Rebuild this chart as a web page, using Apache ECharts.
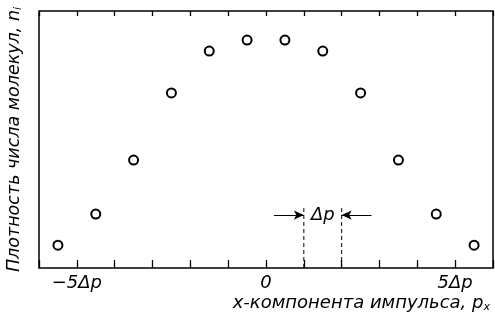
<!DOCTYPE html>
<html lang="ru">
<head>
  <meta charset="UTF-8">
  <title>Распределение по импульсам</title>
  <script src="https://cdn.jsdelivr.net/npm/echarts@6/dist/echarts.min.js"></script>
</head>
<body style="margin:0">
  <div id="chart" style="width: 495px;height: 324px;"></div>
  <script>
    // точки: середины интервалов Δp и относительная плотность n_i
    const momentum = [-5.5, -4.5, -3.5, -2.5, -1.5, -0.5, 0.5, 1.5, 2.5, 3.5, 4.5, 5.5]
    const density = [0.089, 0.210, 0.420, 0.681, 0.844, 0.887, 0.887, 0.844, 0.681, 0.420, 0.210, 0.089]
    // подписи делений оси x
    const tickLabels = { '-5': '−5Δp', '0': '0', '5': '5Δp' }
    // пометка ширины интервала Δp
    const deltaEdges = [1, 2]
    const deltaTop = 0.233
    const arrowY = 0.206
    const arrowFrom = [0.21, 2.79]

    const font = '"DejaVu Sans", sans-serif'
    const chart = echarts.init(document.getElementById('chart'))

    const option = {
      animation: false,
      grid: {
        left: 39, right: 2, top: 11, bottom: 56,
        outerBoundsMode: 'none', containLabel: false,
        show: true, borderColor: '#000', borderWidth: 1.5
      },
      xAxis: [
        {
          type: 'value', min: -6, max: 6, interval: 1,
          axisLine: { show: false },
          splitLine: { show: false },
          axisTick: { inside: true, length: 8, lineStyle: { color: '#000', width: 1.3 } },
          axisLabel: {
            margin: 6, color: '#000', fontSize: 18, fontStyle: 'italic', fontFamily: font,
            formatter: v => tickLabels[String(v)] || ''
          }
        },
        {
          type: 'value', position: 'top', min: -6, max: 6, interval: 1,
          axisLine: { show: false },
          splitLine: { show: false },
          axisTick: { inside: true, length: 5, lineStyle: { color: '#000', width: 1.3 } },
          axisLabel: { show: false }
        }
      ],
      yAxis: {
        type: 'value', min: 0, max: 1,
        axisLine: { show: false },
        axisTick: { show: false },
        axisLabel: { show: false },
        splitLine: { show: false },
        name: 'Плотность числа молекул, {s|n}{sub|i}',
        nameLocation: 'middle', nameGap: 15, nameRotate: 90,
        nameTextStyle: {
          color: '#000', fontSize: 17.5, fontStyle: 'italic', fontFamily: font,
          rich: {
            s: { fontSize: 17.5, fontStyle: 'italic', fontFamily: font, color: '#000' },
            sub: { fontSize: 11, fontStyle: 'italic', fontFamily: font, color: '#000', verticalAlign: 'bottom', padding: [8, 0, 0, 0] }
          }
        }
      },
      graphic: [{
        type: 'text', right: 5, top: 294,
        style: {
          text: 'x-компонента импульса, {s|p}{sub|x}',
          fill: '#000', font: 'italic 18px ' + font,
          rich: {
            s: { fontSize: 18, fontStyle: 'italic', fontFamily: font, fill: '#000' },
            sub: { fontSize: 11, fontStyle: 'italic', fontFamily: font, fill: '#000', verticalAlign: 'bottom', padding: [8, 0, 0, 0] }
          }
        }
      }],
      series: [
        {
          type: 'scatter',
          data: momentum.map((x, i) => [x, density[i]]),
          symbol: 'emptyCircle', symbolSize: 9,
          itemStyle: { color: '#000', borderColor: '#000', borderWidth: 1, opacity: 1 },
          markLine: {
            silent: true,
            symbol: ['none', 'arrow'], symbolSize: [7, 10],
            lineStyle: { color: '#000', width: 1, type: 'solid', opacity: 1 },
            label: { show: false },
            data: deltaEdges.map((x, i) => [
              { coord: [arrowFrom[i], arrowY] },
              { coord: [x, arrowY] }
            ])
          }
        },
        ...deltaEdges.map(x => ({
          type: 'line', symbol: 'none', silent: true,
          data: [[x, 0], [x, deltaTop]],
          lineStyle: { color: '#000', width: 1, type: [4, 3] }
        })),
        {
          type: 'scatter', symbol: 'circle', symbolSize: 0, silent: true,
          itemStyle: { color: '#000', opacity: 1 },
          data: [[(deltaEdges[0] + deltaEdges[1]) / 2, arrowY]],
          label: {
            show: true, position: 'inside', formatter: 'Δp', opacity: 1,
            color: '#000', fontSize: 18, fontStyle: 'italic', fontFamily: font
          }
        }
      ]
    }

    chart.setOption(option)
  </script>
</body>
</html>
